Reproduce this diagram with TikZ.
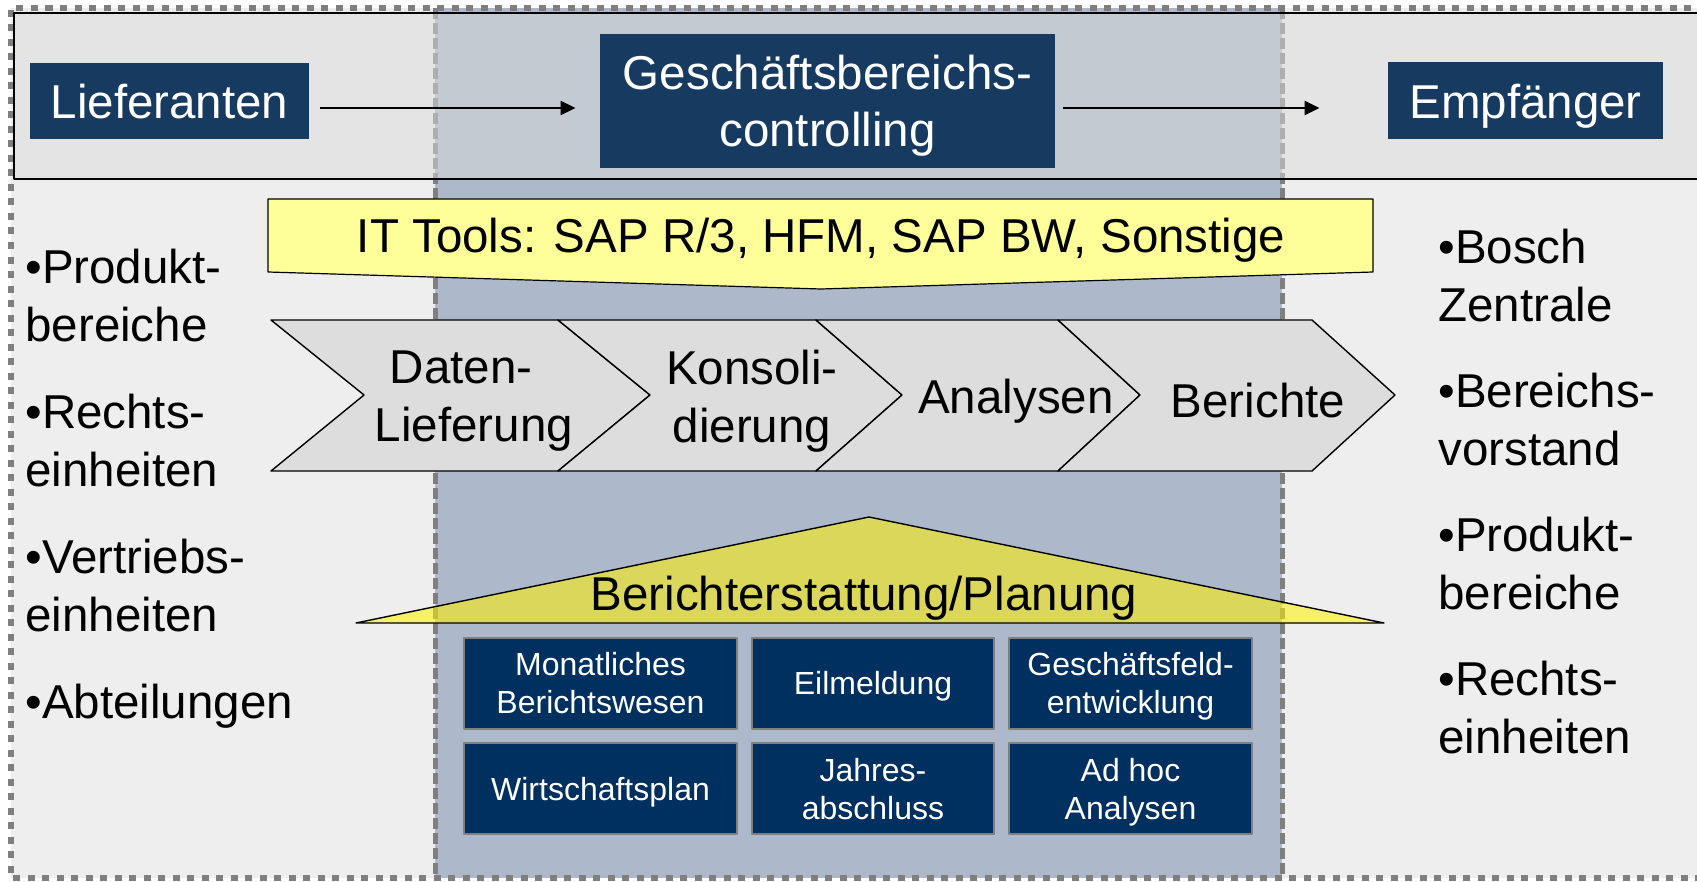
\documentclass[tikz,border=0pt]{standalone}
\usepackage{fontspec}
\setmainfont{Liberation Sans}
\usetikzlibrary{arrows.meta}
\definecolor{sidegray}{HTML}{EEEEEE}
\definecolor{colblue}{HTML}{ADB8CA}
\definecolor{bandgray}{HTML}{DBDBDB}
\definecolor{navy}{HTML}{173A61}
\definecolor{taskblue}{HTML}{00305F}
\definecolor{chevgray}{HTML}{DDDDDD}
\definecolor{toolyellow}{HTML}{FFFF99}
\definecolor{dashgray}{HTML}{7F7F7F}
\begin{document}
\begin{tikzpicture}[x=0.5pt, y=-0.5pt, font=\fontsize{23.75}{28.75}\selectfont, line join=round, >={Triangle[length=7.5pt,width=7pt]},
	headbox/.style={fill=navy, text=white, inner sep=0pt, text depth=0pt, align=center},
	task/.style={fill=taskblue, draw=dashgray, line width=1pt, text=white, inner sep=0pt, text depth=0pt, minimum height=45.5pt, align=center, font=\fontsize{16}{19}\selectfont},
	flow/.style={->, line width=1.2pt},
	frame/.style={dashgray, line width=3.25pt, dash pattern=on 3.5pt off 3.75pt}]
				\useasboundingbox (0,0) rectangle (1697,882);
				\clip (0,0) rectangle (1697,882);
				\fill[white] (0,0) rectangle (1697,882);
				\fill[sidegray] (11,8) rectangle (1720,878);
				\fill[colblue] (435,8) rectangle (1282,878);
				\draw[frame] (1720,8) -- (11,8) -- (11,878) -- (1720,878);
				\foreach \x in {435,1282} \draw[frame, line width=2.5pt, dash pattern=on 5.5pt off 2pt] (\x,8) -- (\x,878);
				\draw[fill=bandgray, fill opacity=0.52, line width=0.8pt] (14,13) rectangle (1720,179);
				% Lieferanten -> Controlling -> Empfaenger
				\node[headbox, minimum width=139.5pt, minimum height=38pt] (lief) at (169.5,101) {Lieferanten};
				\node[headbox, minimum width=227.5pt, minimum height=67pt] (gbc) at (827.5,101) {Geschäftsbereichs-\\controlling};
				\node[headbox, minimum width=137.5pt, minimum height=38.5pt] (empf) at (1525.5,101) {Empfänger};
				\draw[flow, shorten <=5.5pt, shorten >=12pt] ([yshift=-3.5pt]lief.east) -- ([yshift=-3.5pt]gbc.west);
				\draw[flow, shorten <=4pt, shorten >=34pt] ([yshift=-3.5pt]gbc.east) -- ([yshift=-3.5pt]empf.west);
				% IT tools
				\draw[fill=toolyellow, line width=0.6pt] (268,199) -- (1373,199) -- (1373,272) -- (821,289) -- (268,272) -- cycle;
				\node[anchor=base] (tools) at (821,253) {IT Tools: SAP R/3, HFM, SAP BW, Sonstige};
				% process steps
				\foreach \a/\n/\b/\t/\c/\txt [count=\i] in {271/364/558/650/474/{Daten-\kern13pt\\Lieferung}, 558/650/816/902/752/{Konsoli-\\dierung}, 816/902/1058/1140/1016/Analysen, 1058/1140/1312/1395/1258/Berichte}
				{
					\draw[fill=chevgray, line width=0.7pt] (\a,320) -- (\b,320) -- (\t,395) -- (\b,471) -- (\a,471) -- (\n,395) -- cycle;
					\node[align=center] (step\i) at (\c,401) {\txt};
				}
				% Berichterstattung
				\draw[fill=yellow, fill opacity=0.55, line width=0.7pt] (356,623) -- (869,517) -- (1384,623) -- cycle;
				\node[anchor=base] (plan) at (864,610) {Berichterstattung/Planung};
				\node[task, minimum width=136.5pt] (monat) at (600.5,683) {Monatliches\\Berichtswesen};
				\node[task, minimum width=121pt] (eil) at (873,683) {Eilmeldung};
				\node[task, minimum width=121.5pt] (gfe) at (1130.5,683) {Geschäftsfeld-\\entwicklung};
				\node[task, minimum width=136.5pt] (wplan) at (600.5,788.5) {Wirtschaftsplan};
				\node[task, minimum width=121pt] (jab) at (873,788.5) {Jahres-\\abschluss};
				\node[task, minimum width=121.5pt] (adhoc) at (1130.5,788.5) {Ad hoc\\Analysen};
				% Lieferanten / Empfaenger lists
				\node[anchor=north west, align=left, inner sep=0pt] (sender) at (25,249) {•Produkt-\\bereiche\\[15pt]•Rechts-\\einheiten\\[15pt]•Vertriebs-\\einheiten\\[15pt]•Abteilungen};
				\node[anchor=north west, align=left, inner sep=0pt] (receiver) at (1438,229) {•Bosch\\Zentrale\\[14.5pt]•Bereichs-\\vorstand\\[14.5pt]•Produkt-\\bereiche\\[14.5pt]•Rechts-\\einheiten};
			\end{tikzpicture}
\end{document}
